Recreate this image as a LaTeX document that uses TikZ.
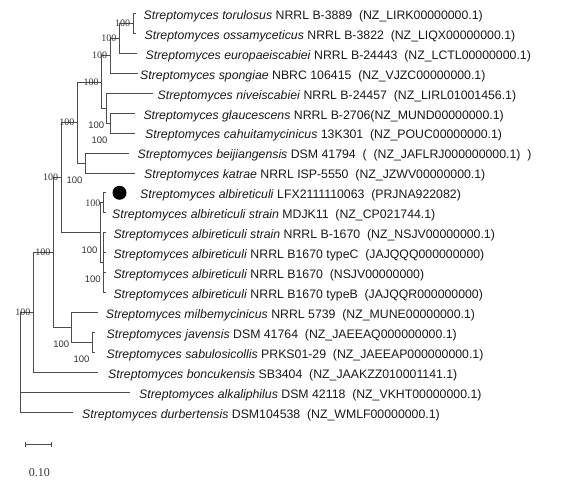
\documentclass[tikz,border=0pt]{standalone}
\usepackage{fontspec}
\usepackage{tikz}
\usetikzlibrary{calc,arrows.meta}
\newfontfamily\taxfont{Liberation Sans}
\newfontfamily\bootfont{Liberation Serif}

\begin{document}
\begin{tikzpicture}[x = 1pt, y = -1pt,
  branch/.style = {draw = black!70, line width = 0.7pt},
  taxon/.style = {anchor = base west, inner sep = 0pt, text = black!90, font = \taxfont\fontsize{12.3}{14}\selectfont},
  boot/.style = {inner sep = 0pt, text = black!80, font = \bootfont\fontsize{10}{12}\selectfont},
  bootsf/.style = {boot, font = \taxfont\fontsize{9.5}{11}\selectfont}]
\useasboundingbox (0,0) rectangle (565,481);
% leaves: number / branch tip / text start / label
\foreach \i/\tip/\tx/\lab in {
 1/136/143.5/{\textit{Streptomyces torulosus} NRRL B-3889~~(NZ\_LIRK00000000.1)},
 2/136/144.5/{\textit{Streptomyces ossamyceticus} NRRL B-3822~~(NZ\_LIQX00000000.1)},
 3/137/145.5/{\textit{Streptomyces europaeiscabiei} NRRL B-24443~~(NZ\_LCTL00000000.1)},
 4/138.3/140/{\textit{Streptomyces spongiae} NBRC 106415~~(NZ\_VJZC00000000.1)},
 5/153.3/157.5/{\textit{Streptomyces niveiscabiei} NRRL B-24457~~(NZ\_LIRL01001456.1)},
 6/135/143.3/{\textit{Streptomyces glaucescens} NRRL B-2706(NZ\_MUND00000000.1)},
 7/135/145/{\textit{Streptomyces cahuitamycinicus} 13K301~~(NZ\_POUC00000000.1)},
 8/129/137.5/{\textit{Streptomyces beijiangensis} DSM 41794~~(~~(NZ\_JAFLRJ000000000.1)~~)},
 9/135/144/{\textit{Streptomyces katrae} NRRL ISP-5550~~(NZ\_JZWV00000000.1)},
 10/105.5/140/{\textit{Streptomyces albireticuli} LFX2111110063~~(PRJNA922082)},
 11/105.5/112/{\textit{Streptomyces albireticuli strain} MDJK11~~(NZ\_CP021744.1)},
 12/105.5/113.3/{\textit{Streptomyces albireticuli strain} NRRL B-1670~~(NZ\_NSJV00000000.1)},
 13/105.5/113.3/{\textit{Streptomyces albireticuli} NRRL B1670 typeC~~(JAJQQQ000000000)},
 14/105.5/113.3/{\textit{Streptomyces albireticuli} NRRL B1670~~(NSJV00000000)},
 15/105.5/113.3/{\textit{Streptomyces albireticuli} NRRL B1670 typeB~~(JAJQQR000000000)},
 16/98/105.7/{\textit{Streptomyces milbemycinicus} NRRL 5739~~(NZ\_MUNE00000000.1)},
 17/95/106.5/{\textit{Streptomyces javensis} DSM 41764~~(NZ\_JAEEAQ000000000.1)},
 18/95/106.5/{\textit{Streptomyces sabulosicollis} PRKS01-29~~(NZ\_JAEEAP000000000.1)},
 19/98.3/108/{\textit{Streptomyces boncukensis} SB3404~~(NZ\_JAAKZZ010001141.1)},
 20/130/139/{\textit{Streptomyces alkaliphilus} DSM 42118~~(NZ\_VKHT00000000.1)},
 21/73.3/82/{\textit{Streptomyces durbertensis} DSM104538~~(NZ\_WMLF00000000.1)}}
{
\pgfmathsetmacro{\ly}{13.3 + 19.95*(\i-1)}
\coordinate (tip\i) at (\tip,\ly);
\node[taxon] (tx\i) at (\tx,\ly+6) {\lab};
}
% inner nodes
\coordinate (A) at (133,23.28);
\coordinate (B) at (119.3,38.24);
\coordinate (C) at (110,55.69);
\coordinate (G) at (110,123.03);
\coordinate (F) at (106.7,108.06);
\coordinate (D) at (101.7,81.88);
\coordinate (H) at (85,162.93);
\coordinate (E) at (77.3,122.4);
\coordinate (L) at (103.3,202.83);
\coordinate (M) at (103.3,262.68);
\coordinate (J) at (100,232.75);
\coordinate (I) at (61,177.6);
\coordinate (P) at (92,342.48);
\coordinate (O) at (71.7,327.5);
\coordinate (K) at (53.3,252.55);
\coordinate (Q) at (33.3,312.5);
\coordinate (R) at (20.7,362);
\foreach \p/\c in {A/tip1, A/tip2, B/A, B/tip3, C/B, C/tip4, G/tip6, G/tip7,
  F/tip5, F/G, D/C, D/F, H/tip8, H/tip9, E/D, E/H, L/tip10, L/tip11,
  M/tip12, M/tip13, M/tip14, M/tip15, J/L, J/M, I/E, I/J, P/tip17, P/tip18,
  O/tip16, O/P, K/I, K/O, Q/K, Q/tip19, R/Q, R/tip20, R/tip21}
\draw[branch] (\p) |- (\c);
% bootstrap values
\foreach \n in {A,B,C,D,E,I,K,Q,L}
\node[boot] (bs\n) at ($(\n)+(-10.5,0)$) {100};
\foreach \n in {F,G,H,J,M,O,P}
\node[bootsf] (bs\n) at ($(\n)+(-10.5,17)$) {100};
\node[circle, fill, minimum size = 14pt, inner sep = 0pt] (dot) at (119.5,192.8) {};
% scale bar
\coordinate (s0) at (25,444.3);
\coordinate (s1) at (51.7,444.3);
\draw[branch, {Bar[width=5pt]}-{Bar[width=5pt]}] (s0) -- (s1);
\node[boot, font = \bootfont\fontsize{12}{14}\selectfont] (scale) at (39.3,472.3) {0.10};
\end{tikzpicture}
\end{document}
